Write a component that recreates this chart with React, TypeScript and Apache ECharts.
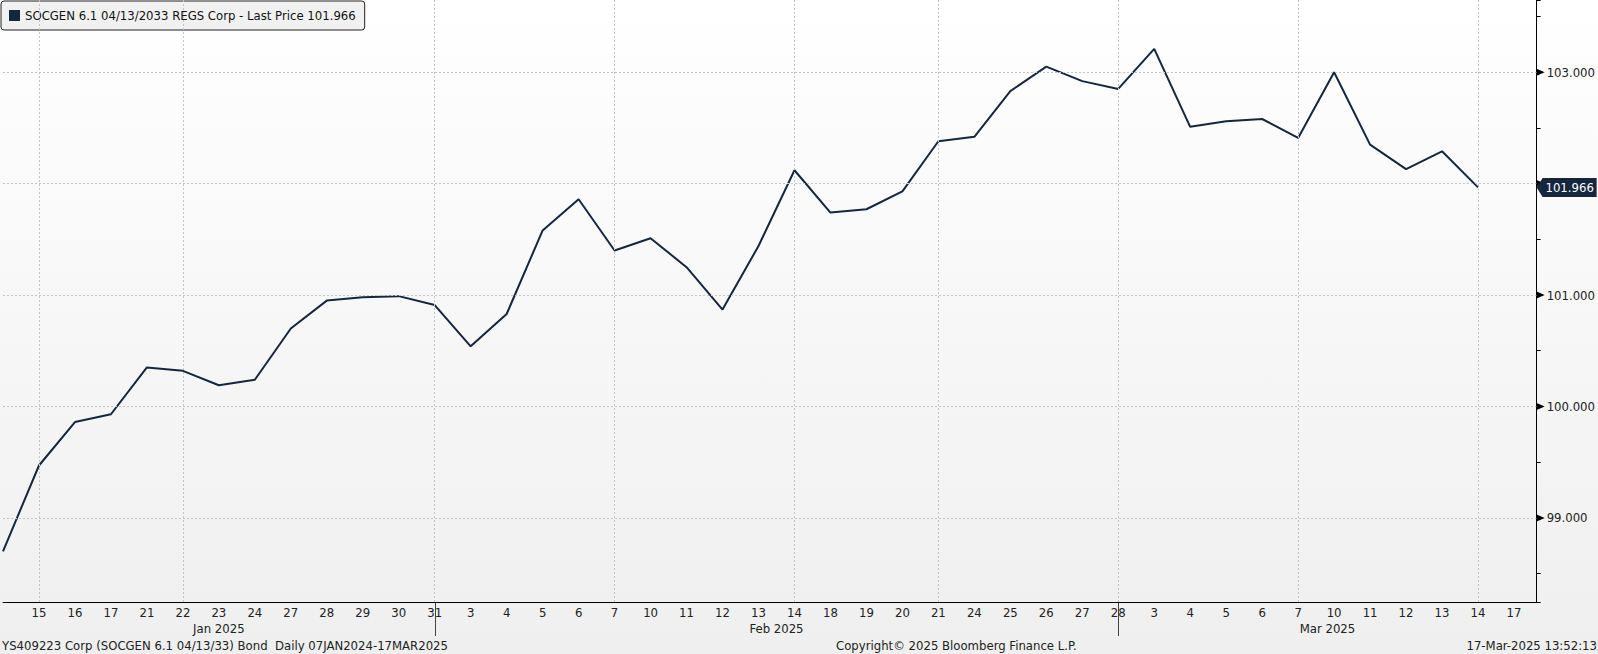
import React, { useEffect, useRef } from "react";
import * as echarts from "echarts";

const seriesName = "SOCGEN 6.1 04/13/2033 REGS Corp";
const tradeDates = [
  "2025-01-14", "2025-01-15", "2025-01-16", "2025-01-17", "2025-01-21", "2025-01-22", "2025-01-23", "2025-01-24",
  "2025-01-27", "2025-01-28", "2025-01-29", "2025-01-30", "2025-01-31",
  "2025-02-03", "2025-02-04", "2025-02-05", "2025-02-06", "2025-02-07", "2025-02-10", "2025-02-11", "2025-02-12",
  "2025-02-13", "2025-02-14", "2025-02-18", "2025-02-19", "2025-02-20", "2025-02-21", "2025-02-24", "2025-02-25",
  "2025-02-26", "2025-02-27", "2025-02-28",
  "2025-03-03", "2025-03-04", "2025-03-05", "2025-03-06", "2025-03-07", "2025-03-10", "2025-03-11", "2025-03-12",
  "2025-03-13", "2025-03-14", "2025-03-17",
];
const prices = [
  98.70, 99.47, 99.86, 99.93, 100.35, 100.32, 100.19, 100.24,
  100.70, 100.95, 100.98, 100.99, 100.91,
  100.54, 100.83, 101.58, 101.86, 101.40, 101.51, 101.25, 100.87,
  101.44, 102.12, 101.74, 101.77, 101.93, 102.38, 102.42, 102.83,
  103.05, 102.92, 102.85,
  103.21, 102.51, 102.56, 102.58, 102.41, 103.00, 102.35, 102.13,
  102.29, 101.966,
];
const yTickValues = [99, 100, 101, 102, 103];
const gridDates = ["2025-01-15", "2025-01-22", "2025-01-31", "2025-02-07", "2025-02-14", "2025-02-21", "2025-02-28", "2025-03-07", "2025-03-14"];
const monthNames = ["Jan 2025", "Feb 2025", "Mar 2025"];
const footerLeft = "YS409223 Corp (SOCGEN 6.1 04/13/33) Bond  Daily 07JAN2024-17MAR2025";
const footerCenter = "Copyright\u00a9 2025 Bloomberg Finance L.P.";
const footerRight = "17-Mar-2025 13:52:13";

const X_MAX = 42.63;
const Y_MIN = 98.245;
const Y_MAX = 103.648;
const FONT = "'DejaVu Sans Condensed', 'Noto Sans', sans-serif";
const FS = 13;
const NAVY = "#15263d";

export default function App() {
  const ref = useRef<HTMLDivElement>(null);
  useEffect(() => {
    if (!ref.current) return;
    const chart = echarts.init(ref.current, undefined, { renderer: "svg" });
    const last = prices[prices.length - 1];
    const data = prices.map((p, i) => [i, p]);
    const gridIdx = gridDates.map((d) => tradeDates.indexOf(d));

    chart.setOption({
      animation: false,
      backgroundColor: {
        type: "linear", x: 0, y: 0, x2: 0, y2: 1,
        colorStops: [{ offset: 0, color: "#ffffff" }, { offset: 1, color: "#efefef" }],
      },
      textStyle: { fontFamily: FONT },
      grid: { left: 0, right: 59, top: 0, bottom: 52, containLabel: false },
      legend: {
        show: true, left: 1, top: 1, icon: "rect", itemWidth: 11, itemHeight: 11,
        padding: [8, 9, 8, 8], backgroundColor: "#f1f1f1", borderColor: "#222", borderWidth: 1, borderRadius: 3,
        textStyle: { fontSize: FS, color: "#111", fontFamily: FONT },
        formatter: (n: string) => `${n} - Last Price ${last.toFixed(3)}`,
        data: [{ name: seriesName, itemStyle: { color: NAVY } }],
      },
      xAxis: {
        type: "value", min: 0, max: X_MAX, interval: 1,
        splitLine: { show: false },
        axisLine: { onZero: false, lineStyle: { color: "#000", width: 1 } },
        axisTick: { show: false },
        axisLabel: {
          color: "#222", fontSize: FS, margin: 4, fontFamily: FONT,
          formatter: (v: number) => {
            if (Math.abs(v - Math.round(v)) > 1e-6) return "";
            const i = Math.round(v);
            if (i < 1 || i >= tradeDates.length) return "";
            return String(parseInt(tradeDates[i].slice(8), 10));
          },
        },
      },
      yAxis: {
        type: "value", position: "right", min: Y_MIN, max: Y_MAX, splitNumber: 11,
        splitLine: { show: false },
        axisLine: { show: true, onZero: false, lineStyle: { color: "#000", width: 1 } },
        axisTick: { show: true, inside: false, length: 4, lineStyle: { color: "#000" } },
        axisLabel: {
          color: "#222", fontSize: FS, margin: 10, fontFamily: FONT,
          formatter: (v: number) => (Math.abs(v - Math.round(v)) < 1e-6 ? v.toFixed(3) : ""),
        },
      },
      series: [
        {
          name: seriesName, type: "line", data, symbol: "none",
          lineStyle: { color: NAVY, width: 2 }, itemStyle: { color: NAVY },
          markLine: {
            silent: true, symbol: "none", label: { show: false },
            lineStyle: { color: "#c4c4c4", type: [2, 2], width: 1 },
            data: [
              ...yTickValues.map((v) => ({ yAxis: v })),
              ...gridIdx.map((i) => ({ xAxis: i })),
            ],
          },
          markPoint: {
            silent: true,
            data: [
              ...yTickValues.map((v) => ({
                coord: [X_MAX, v], symbol: "triangle", symbolSize: [7, 8], symbolRotate: -90,
                symbolOffset: [4, 0], itemStyle: { color: "#000" }, label: { show: false },
              })),
              {
                coord: [X_MAX, last],
                symbol: "path://M0,9.5L6,0H60V19H6Z", symbolKeepAspect: false, symbolSize: [60, 19],
                symbolOffset: [30, 0], itemStyle: { color: NAVY },
                label: { show: true, position: "inside", offset: [3, 0], color: "#fff", fontSize: FS, fontFamily: FONT, formatter: last.toFixed(3) },
              },
            ],
          },
        },
      ],
    });

    // month labels and separators, positioned via the axis scale
    const toX = (v: number) => chart.convertToPixel({ xAxisIndex: 0 }, v) as number;
    const monthEnds: number[] = [];
    tradeDates.forEach((d, i) => {
      const next = tradeDates[i + 1];
      if (next && next.slice(5, 7) !== d.slice(5, 7)) monthEnds.push(i);
    });
    const bounds = [0, ...monthEnds, X_MAX];
    const axisY = chart.convertToPixel({ yAxisIndex: 0 }, Y_MIN) as number;
    const font = `${FS}px ${FONT}`;
    const graphics: any[] = [];
    monthNames.forEach((m, k) => {
      const cx = (toX(bounds[k]) + toX(bounds[k + 1])) / 2;
      graphics.push({
        type: "text", x: cx, y: axisY + 26, silent: true,
        style: { text: m, font, fill: "#222", textAlign: "center", textVerticalAlign: "middle", align: "center", verticalAlign: "middle" },
      });
    });
    monthEnds.forEach((i) => {
      const x = Math.round(toX(i)) + 0.5;
      graphics.push({ type: "line", silent: true, shape: { x1: x, y1: axisY, x2: x, y2: axisY + 34 }, style: { stroke: "#444", lineWidth: 1 } });
    });
    graphics.push(
      { type: "text", x: 2, y: 645, silent: true, style: { text: footerLeft, font, fill: "#222", textAlign: "left", textVerticalAlign: "middle", align: "left", verticalAlign: "middle" } },
      { type: "text", x: 836, y: 645, silent: true, style: { text: footerCenter, font, fill: "#222", textAlign: "left", textVerticalAlign: "middle", align: "left", verticalAlign: "middle" } },
      { type: "text", x: 1597, y: 645, silent: true, style: { text: footerRight, font, fill: "#222", textAlign: "right", textVerticalAlign: "middle", align: "right", verticalAlign: "middle" } },
    );
    chart.setOption({ graphic: graphics });

    return () => chart.dispose();
  }, []);
  return <div ref={ref} style={{ position: "fixed", left: 0, top: 0, width: 1598, height: 654 }} />;
}
